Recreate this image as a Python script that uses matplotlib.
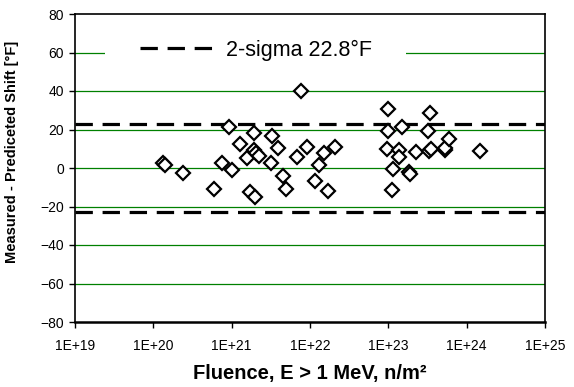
import numpy as np
import matplotlib
matplotlib.use("Agg")
import matplotlib.pyplot as plt
from matplotlib.patches import Rectangle
from matplotlib.ticker import FixedLocator, FuncFormatter, NullLocator

plt.rcParams['font.family'] = ['Liberation Sans', 'DejaVu Sans']
plt.rcParams['lines.scale_dashes'] = False

# log10 of fluence (n/m^2) and residual (°F)
log_fluence = [20.12, 20.15, 20.38, 20.78, 20.88, 21.00, 20.97, 21.10, 21.19, 21.28,
               21.31, 21.35, 21.29, 21.23, 21.30, 21.51, 21.59, 21.50, 21.83, 21.96,
               21.89, 21.66, 21.69, 22.06, 22.18, 22.32, 22.12, 22.23,
               23.00, 23.53, 22.99, 23.18, 23.50, 22.98, 23.14, 23.14, 23.35, 23.52,
               23.55, 23.72, 23.72, 23.78, 24.17, 23.06, 23.27, 23.28, 23.05]
residual = [2.8, 1.6, -2.8, -11.1, 2.4, -1.0, 21.5, 12.5, 5.0, 9.4,
            7.6, 6.2, 18.2, -12.3, -14.9, 16.8, 10.4, 2.6, 5.7, 10.9,
            40.0, -4.2, -10.8, -6.8, 7.9, 11.1, 1.7, -11.8,
            30.5, 28.7, 19.2, 21.1, 19.4, 9.7, 9.4, 5.9, 8.5, 9.0,
            9.7, 9.4, 10.5, 15.1, 8.8, -0.7, -1.9, -3.1, -11.4]
two_sigma = 22.8
legend_label = "2-sigma 22.8°F"
x_ticks = [1e19, 1e20, 1e21, 1e22, 1e23, 1e24, 1e25]
y_ticks = [-80, -60, -40, -20, 0, 20, 40, 60, 80]

fluence = [10 ** v for v in log_fluence]

fig = plt.figure(figsize=(5.74, 3.87), dpi=100)
ax = fig.add_axes([75/574, 1 - 322/387, 470/574, 308/387])

ax.set_xscale('log')
ax.set_xlim(1e19, 1e25)
ax.set_ylim(-80, 80)

# grid lines
for yv in y_ticks[1:-1]:
    ax.axhline(yv, color='#008000', lw=0.9, zorder=1)

# white box behind legend
ax.add_patch(Rectangle(((105-75)/470, 53), (406-105)/470, 14,
                       transform=ax.get_yaxis_transform(), facecolor='white',
                       edgecolor='none', zorder=2))

ln, = ax.plot([1e19, 1e25], [two_sigma, two_sigma], color='black', lw=2.3,
              dashes=(12.5, 7), zorder=3, label=legend_label)
ax.plot([1e19, 1e25], [-two_sigma, -two_sigma], color='black', lw=2.3,
        dashes=(12.5, 7), zorder=3)

ax.plot(fluence, residual, linestyle='none', marker='D', ms=6.8,
        markerfacecolor='white', markeredgecolor='black', mew=1.6, zorder=4)

leg = ax.legend(handles=[ln], loc='center left',
                bbox_to_anchor=((140-75)/470, (322-50)/308),
                frameon=False, borderpad=0, borderaxespad=0,
                handlelength=3.4, handletextpad=0.6, fontsize=15.5)
leg.set_zorder(5)

ax.xaxis.set_major_locator(FixedLocator(x_ticks))
ax.xaxis.set_minor_locator(NullLocator())
ax.xaxis.set_major_formatter(FuncFormatter(lambda v, p: "1E+%d" % round(np.log10(v))))
ax.yaxis.set_major_locator(FixedLocator(y_ticks))
ax.tick_params(axis='both', direction='out', length=4, width=1, labelsize=10,
               colors='black')
ax.tick_params(axis='x', pad=8)
ax.tick_params(axis='y', pad=4)

for s in ['left', 'right', 'top']:
    ax.spines[s].set_linewidth(1.2)
    ax.spines[s].set_color('black')
ax.spines['bottom'].set_linewidth(1.8)

ax.set_xlabel("Fluence, E > 1 MeV, n/m²", fontsize=14.5, fontweight='bold', labelpad=8)
fig.text(12/574, 1 - 152/387, "Measured - Prediceted Shift [°F]", rotation=90,
         fontsize=10.5, fontweight='bold', ha='center', va='center')

fig.savefig("out.png", dpi=100)
